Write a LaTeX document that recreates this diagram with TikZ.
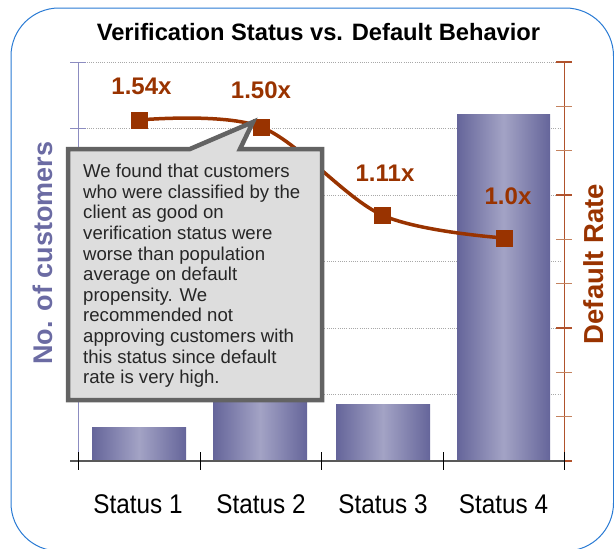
\documentclass[tikz,border=0pt]{standalone}
\usepackage{fontspec}
\setmainfont{Liberation Sans}
\definecolor{rate}{HTML}{993300}
\definecolor{ratetick}{HTML}{C4825E}
\definecolor{rateaxis}{HTML}{B0522C}
\definecolor{cust}{HTML}{6B6BA3}
\definecolor{custaxis}{HTML}{8C8CC0}
\definecolor{bardark}{HTML}{65659A}
\definecolor{barlight}{HTML}{A3A3C5}
\definecolor{frame}{HTML}{2A7BD4}
\definecolor{calloutfill}{HTML}{DDDDDD}
\definecolor{calloutedge}{HTML}{636363}
\definecolor{gridgray}{HTML}{A8A8A8}
\tikzset{
  grid line/.style={gridgray, line width=0.7pt, dash pattern=on 1pt off 1.2pt},
  barshade/.style={left color=bardark, right color=bardark, middle color=barlight},
  ratesq/.style={fill=rate, draw=none, minimum size=17pt, inner sep=0pt},
  ratelbl/.style={text=rate, font=\fontsize{24}{24}\bfseries\selectfont, inner sep=0pt},
  catlbl/.style={font=\fontsize{27}{27}\selectfont, inner sep=0pt, xscale=0.9, anchor=base},
}
\begin{document}
\begin{tikzpicture}[x=1pt,y=-1pt]
\useasboundingbox (0,0) rectangle (614,549);
% outer frame
\draw[frame, line width=1pt, rounded corners=48pt] (11,8) rectangle (613.5,551);
% title
\node[anchor=base, inner sep=0pt, font=\fontsize{23.7}{23.7}\bfseries\selectfont] (title) at (318.5,40) {Verification Status vs. Default Behavior};
% horizontal grid
\foreach \g in {62,128.5,195,261.5,328,394.5}
  \draw[grid line] (78,\g) -- (560,\g);
% bars
\shade[barshade] (92,427) rectangle (186,461);
\shade[barshade] (213,385) rectangle (307,461);
\shade[barshade] (336,404) rectangle (430,461);
\shade[barshade] (457,114) rectangle (550,461);
% left axis (customers)
\draw[custaxis, line width=1pt] (78,62) -- (78,461);
\foreach \g in {62,128.5,195,261.5,328,394.5}
  \draw[custaxis, line width=1pt] (70,\g) -- (86,\g);
% right axis (default rate)
\draw[rateaxis, line width=1pt] (564,62) -- (564,470);
\foreach \i in {0,...,9}{
  \pgfmathsetmacro{\yy}{62+\i*44.333}
  \pgfmathtruncatemacro{\m}{mod(\i,3)}
  \ifnum\m=0
    \draw[rateaxis, line width=1.1pt] (556,\yy) -- (572,\yy);
  \else
    \draw[ratetick, line width=1.1pt] (556,\yy) -- (572,\yy);
  \fi
}
% category axis
\draw[black!65, line width=1.3pt] (70,461) -- (564,461);
\foreach \x in {78,200,321,443,564}
  \draw[black, line width=0.7pt] (\x,452) -- (\x,470);
% category labels
\node[catlbl] (s1) at (138,513) {Status 1};
\node[catlbl] (s2) at (261,513) {Status 2};
\node[catlbl] (s3) at (383,513) {Status 3};
\node[catlbl] (s4) at (503.5,513) {Status 4};
% axis titles
\node[rotate=90, text=cust, inner sep=0pt, font=\fontsize{27}{27}\bfseries\selectfont] (ylab) at (43,253) {No. of customers};
\node[rotate=90, text=rate, inner sep=0pt, font=\fontsize{27.5}{27.5}\bfseries\selectfont] (rlab) at (594,264) {Default Rate};
% default rate series
\coordinate (c1) at (139,120);
\coordinate (c2) at (261,127);
\coordinate (c3) at (382,215);
\coordinate (c4) at (504,238);
\draw[rate, line width=3.5pt] plot[smooth, tension=0.55] coordinates {(c1) (c2) (c3) (c4)};
\node[ratesq] (p1) at (c1) {};
\node[ratesq] (p2) at (c2) {};
\node[ratesq] (p3) at (c3) {};
\node[ratesq] (p4) at (c4) {};
\node[ratelbl] (l1) at (141.5,86) {1.54x};
\node[ratelbl] (l2) at (261,90.5) {1.50x};
\node[ratelbl] (l3) at (385,173) {1.11x};
\node[ratelbl] (l4) at (508,196) {1.0x};
% callout
\draw[calloutedge, fill=calloutfill, line width=4.5pt, line join=miter]
  (68,149) -- (190,149) -- (253,122) -- (240,149) -- (322,149) -- (322,400) -- (68,400) -- cycle;
\node[anchor=north west, align=left, inner sep=0pt, text=black!85,
      font=\fontsize{18.6}{20.6}\selectfont] (note) at (83,164)
  {We found that customers\\who were classified by the\\client as good on\\verification status were\\worse than population\\average on default\\propensity. We\\recommended not\\approving customers with\\this status since default\\rate is very high.};
\end{tikzpicture}
\end{document}
